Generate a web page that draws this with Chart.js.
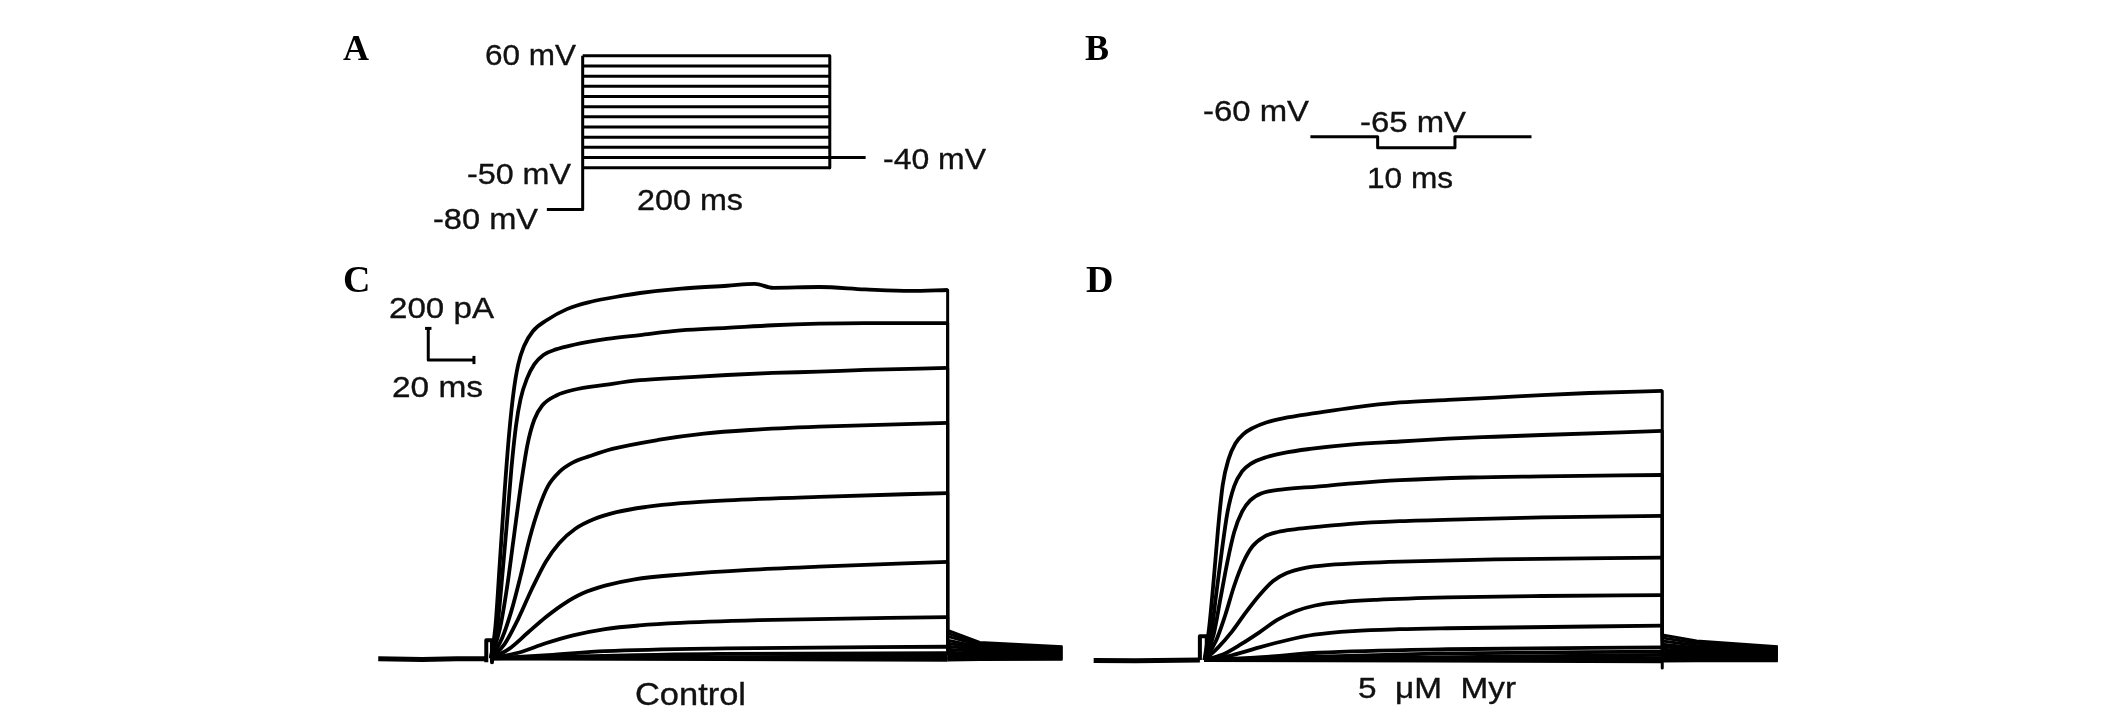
<!DOCTYPE html>
<html><head><meta charset="utf-8">
<script src="https://cdn.jsdelivr.net/npm/chart.js@4/dist/chart.umd.min.js"></script>
<style>
html,body{margin:0;padding:0;background:#fff;}
#wrap{position:relative;width:2126px;height:713px;overflow:hidden;background:#fff;}
#c{position:absolute;left:0;top:0;width:2126px;height:713px;}
.lbl{position:absolute;white-space:pre;line-height:1;color:#111;font-family:"Liberation Sans",Arial,sans-serif;transform-origin:0 0;-webkit-text-stroke:0.35px #111;}
.pl{font-family:"Liberation Serif","Times New Roman",serif;font-weight:bold;color:#000;-webkit-text-stroke:0;}
</style></head><body>
<div id="wrap"><canvas id="c" width="2126" height="713"></canvas></div>
<script>
// ---------- Panel A: voltage protocol (mV vs ms) ----------
const protoSteps = [-50,-40,-30,-20,-10,0,10,20,30,40,50,60];
const protoStepTime = [0,200];
const protoHolding = [[-29,-91],[0,-91],[0,60]];   // holding level (labelled -80 mV, drawn schematically)
const protoTail = [[200,-40],[229,-40]];
// ---------- Panel B: test pulse ----------
const pulseB = [[-8.7,-60],[0,-60],[0,-65],[10,-65],[10,-60],[19.9,-60]];
// ---------- Panel C: control currents (pA vs ms) ----------
const ctl60 = [[0,0],[2,200],[4,622],[6,1050],[8,1420],[10,1690],[12,1860],[14.5,1975],[18.4,2070],[24.6,2141],[33.3,2210],[43.4,2255],[57.8,2295],[65.3,2312],[83.4,2340],[103.5,2358],[115.6,2370],[123.6,2345],[143.7,2350],[163.8,2335],[183.9,2325],[200,2331]];
const ctl50 = [[0,0],[3,220],[5,520],[7,850],[9,1200],[11,1470],[13,1640],[15.8,1770],[19,1860],[23,1920],[28.5,1955],[35.9,1983],[50.8,2021],[65.3,2046],[83.2,2075],[103.4,2091],[123.5,2108],[143.6,2118],[163.7,2122],[200,2122]];
const ctl40 = [[0,0],[4,190],[7,440],[10,760],[13,1080],[16,1350],[19,1510],[22.5,1600],[28.9,1665],[35.9,1698],[50.8,1732],[65.3,1760],[83.2,1776],[103.4,1793],[123.5,1806],[143.6,1814],[163.7,1825],[200,1838]];
const ctl30 = [[0,0],[5,130],[9,300],[13,520],[17,760],[21,950],[25,1090],[30,1180],[36,1240],[43.4,1280],[53.2,1325],[73.2,1382],[93.3,1422],[113.4,1445],[143.7,1466],[200,1490]];
const ctl20 = [[0,0],[6,90],[12,250],[18,440],[24,610],[30,730],[37,820],[45,880],[55,925],[68,958],[83.2,982],[103.4,1000],[143.6,1022],[200,1046]];
const ctl10 = [[0,0],[8,60],[16,160],[24,260],[32,345],[40,410],[50,460],[63,500],[83,530],[113,560],[143.6,580],[200,610]];
const ctl0 = [[0,0],[12,35],[24,95],[36,145],[50,185],[65,208],[83,224],[123.5,243],[200,261]];
const ctlM10 = [[0,0],[25,20],[50,45],[103,63],[200,73]];
const ctlM20 = [[0,0],[100,28],[200,32]];
const ctlM30 = [[0,0],[200,14]];
const ctlM40 = [[0,0],[200,0]];
const ctlM50 = [[0,0],[200,-10]];
const ctlTailTime = [200,214,250.3];
const ctlTailStart = [177,158,139,114,95,76,57,39,27,14,0,-10];
const ctlTailMid = [100,90,82,72,62,52,42,30,20,10,0,-8];
const ctlTailEnd = [73,66,60,52,45,38,30,22,15,8,0,-6];
const ctlBaseline = [[-49.3,-3],[-30,-8],[-15,-3],[-2,-3]];
const ctlArtifact = [[-2,-25],[-2,115],[0.5,115],[0.5,-25]];
const scaleBarC = [[-7.4,1888],[-27.4,1888],[-27.4,2088]]; // 20 ms, 200 pA
// ---------- Panel D: 5 uM Myr currents ----------
const myr60 = [[0,0],[2,200],[4,500],[6,840],[8,1110],[10.5,1270],[13.5,1370],[17,1430],[21,1468],[27.3,1505],[34.3,1530],[49.1,1564],[64.9,1598],[85.4,1630],[106.4,1646],[126.9,1660],[147.4,1677],[168,1690],[200,1703]];
const myr50 = [[0,0],[3,170],[5,400],[7.5,680],[10,930],[13,1100],[16.5,1195],[20,1240],[27.3,1285],[34.3,1310],[46.1,1336],[64.9,1365],[85.4,1383],[106.4,1401],[126.9,1413],[147.4,1424],[200,1450]];
const myr40 = [[0,0],[4,160],[7,390],[10,620],[13,810],[16.5,940],[20,1010],[25,1055],[34.3,1080],[49.1,1098],[64.9,1118],[85.4,1138],[116.4,1155],[147.4,1162],[200,1171]];
const myr30 = [[0,0],[5,120],[9,280],[13,470],[17,620],[21,720],[26,780],[32,810],[40,828],[49.1,842],[63.5,862],[85.4,879],[116.4,892],[147.4,903],[200,912]];
const myr20 = [[0,0],[6,80],[12,180],[18,300],[24,410],[30,500],[36,550],[44,583],[54.7,602],[70,615],[85.4,623],[126.9,637],[200,648]];
const myr10 = [[0,0],[8,35],[16,100],[24,175],[32,255],[40,310],[48.4,345],[60,367],[75.2,381],[106.2,396],[147.4,405],[200,411]];
const myr0 = [[0,0],[12,30],[24,80],[36,125],[48,160],[64.9,183],[85,195],[106.2,201],[200,217]];
const myrM10 = [[0,0],[25,18],[50,46],[106.2,68],[200,80]];
const myrM20 = [[0,0],[100,40],[200,53]];
const myrM30 = [[0,0],[200,32]];
const myrM40 = [[0,0],[200,11]];
const myrM50 = [[0,0],[200,-8]];
const myrTailTime = [200,215,250.5];
const myrTailStart = [158,140,120,100,84,68,52,38,26,14,4,-6];
const myrTailMid = [120,106,92,78,66,54,42,32,22,12,4,-5];
const myrTailEnd = [84,76,68,60,52,44,36,28,20,12,4,-4];
const myrBaseline = [[-48.4,-3],[-30,-4],[-2,0]];
const myrArtifact = [[-2,0],[-2,150],[1,150],[1,0]];
const myrEndTick = [[200,0],[200,-50]];

// ---------- text ----------
const labels = [
  {t:"A", x:343, b:60, f:36, serif:true},
  {t:"B", x:1085, b:60, f:36, serif:true},
  {t:"C", x:343, b:292, f:38, serif:true},
  {t:"D", x:1086, b:292, f:38, serif:true},
  {t:"60 mV", x:485, b:65, f:30, w:91},
  {t:"-50 mV", x:467, b:184, f:30, w:104},
  {t:"-80 mV", x:433, b:229, f:30, w:105},
  {t:"200 ms", x:637, b:210, f:30, w:106},
  {t:"-40 mV", x:883, b:169, f:30, w:103},
  {t:"-60 mV", x:1203, b:121, f:30, w:106},
  {t:"-65 mV", x:1360, b:132, f:30, w:106},
  {t:"10 ms", x:1367, b:188, f:30, w:86},
  {t:"200 pA", x:389, b:318, f:30, w:105},
  {t:"20 ms", x:392, b:397, f:30, w:91},
  {t:"Control", x:635, b:705, f:32, w:111},
  {t:"5  \u03bcM  Myr", x:1358, b:699, f:29, w:158}
];

// ---------- build datasets ----------
const P = a => a.map(p => ({x:p[0], y:p[1]}));
function ds(points, xID, yID, width, smooth){
  return {data:P(points), xAxisID:xID, yAxisID:yID, borderColor:'#000', backgroundColor:'#000',
    borderWidth:width, pointRadius:0, showLine:true, fill:false, tension:0,
    cubicInterpolationMode: smooth ? 'monotone' : 'default',
    borderJoinStyle:'round', borderCapStyle:'butt'};
}
const datasets = [];
// Panel A
protoSteps.forEach(v => datasets.push(ds(protoStepTime.map(t => [t, v]), 'xA','yA',3,false)));
datasets.push(ds(protoHolding,'xA','yA',3,false));
datasets.push(ds([[200, protoSteps[protoSteps.length-1]],[200, protoSteps[0]]],'xA','yA',3,false));
datasets.push(ds(protoTail,'xA','yA',3,false));
// Panel B
datasets.push(ds(pulseB,'xB','yB',3,false));
// Panel C
const ctlTraces = [ctl60,ctl50,ctl40,ctl30,ctl20,ctl10,ctl0,ctlM10,ctlM20,ctlM30,ctlM40,ctlM50];
ctlTraces.forEach((tr,i) => {
  datasets.push(ds(tr,'xC','yC',3.8,true));
  const last = tr[tr.length-1][1];
  datasets.push(ds([[200,last],[ctlTailTime[0],ctlTailStart[i]],[ctlTailTime[1],ctlTailMid[i]],[ctlTailTime[2],ctlTailEnd[i]]],'xC','yC',3,false));
});
datasets.push(ds(ctlBaseline,'xC','yC',5,false));
datasets.push(ds(ctlArtifact,'xC','yC',4,false));
datasets.push(ds(scaleBarC,'xC','yC',3,false));
datasets.push(ds([[-28.8,2088],[-26,2088]],'xC','yC',3,false));
datasets.push(ds([[-7.4,1862],[-7.4,1914]],'xC','yC',3,false));
// Panel D
const myrTraces = [myr60,myr50,myr40,myr30,myr20,myr10,myr0,myrM10,myrM20,myrM30,myrM40,myrM50];
myrTraces.forEach((tr,i) => {
  datasets.push(ds(tr,'xD','yD',3.8,true));
  const last = tr[tr.length-1][1];
  datasets.push(ds([[200,last],[myrTailTime[0],myrTailStart[i]],[myrTailTime[1],myrTailMid[i]],[myrTailTime[2],myrTailEnd[i]]],'xD','yD',3,false));
});
datasets.push(ds(myrBaseline,'xD','yD',5,false));
datasets.push(ds(myrArtifact,'xD','yD',4,false));
datasets.push(ds(myrEndTick,'xD','yD',3,false));

const hid = (axis,min,max) => ({type:'linear', axis:axis, display:false, min:min, max:max});
new Chart(document.getElementById('c'), {
  type:'scatter',
  data:{datasets:datasets},
  options:{
    responsive:false, animation:false, devicePixelRatio:1,
    layout:{padding:0},
    plugins:{legend:{display:false}, tooltip:{enabled:false}, title:{display:false}},
    events:[],
    scales:{
      x:{display:false}, y:{display:false},
      xA:hid('x',-471.6,1249.1), yA:hid('y',-586.0,114.85),
      xB:hid('x',-178.2,96.8),   yB:hid('y',-321.95,2.136),
      xC:hid('x',-214.9,715.9),  yC:hid('y',-346.2,4166.5),
      xD:hid('x',-526.2,402.6),  yD:hid('y',-335.4,4177.2)
    }
  }
});

// ---------- labels as real text ----------
const wrap = document.getElementById('wrap');
labels.forEach(L => {
  const d = document.createElement('div');
  d.className = 'lbl' + (L.serif ? ' pl' : '');
  d.textContent = L.t;
  d.style.fontSize = L.f + 'px';
  d.style.left = L.x + 'px';
  d.style.top = (L.b - (L.serif ? 0.8375 : 0.8465) * L.f) + 'px';
  wrap.appendChild(d);
  if (L.w) { const w = d.getBoundingClientRect().width; if (w > 0) d.style.transform = 'scaleX(' + (L.w / w) + ')'; }
});
</script></body></html>
